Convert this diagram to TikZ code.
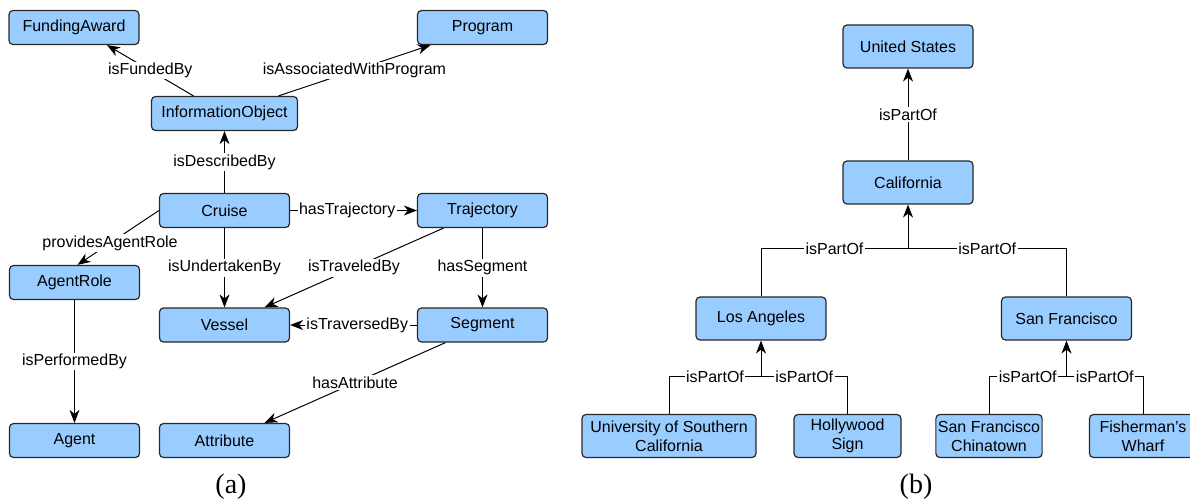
\documentclass[tikz,border=0pt]{standalone}
\usepackage{fontspec}
\setmainfont{Liberation Sans}
\newfontfamily\capfont{Liberation Serif}
\usetikzlibrary{arrows.meta}

\definecolor{boxblue}{RGB}{153,204,255}
\definecolor{boxline}{RGB}{40,40,40}

\tikzset{
  concept/.style={draw=boxline, fill=boxblue, rounded corners=4pt, line width=1.2pt,
    minimum height=34pt, minimum width=130pt, inner sep=2pt, align=center,
    font=\fontsize{16}{19}\selectfont},
  place/.style={concept, minimum height=43pt},
  rel/.style={fill=white, inner sep=1.5pt, font=\fontsize{16}{19}\selectfont},
  link/.style={draw, line width=1pt, -{Stealth[length=13pt,width=10pt,inset=4pt]}},
  tree/.style={draw, line width=1pt},
  caption/.style={font=\capfont\fontsize{28}{32}\selectfont},
}

\begin{document}
\begin{tikzpicture}[x=1pt,y=-1pt]
        \useasboundingbox (0,0) rectangle (1190,502);

        % (a) cruise ontology
        \begin{scope}[every node/.style={concept}]
          \node (fund)    at (74,27.5)     {FundingAward};
          \node (prog)    at (482.5,27.5)  {Program};
          \node[minimum width=146pt] (info) at (224.5,113.5) {InformationObject};
          \node (cruise)  at (224.5,210.5) {Cruise};
          \node (traj)    at (482.5,210.5) {Trajectory};
          \node (role)    at (74.5,282.5)  {AgentRole};
          \node (vessel)  at (224.5,325)   {Vessel};
          \node (segment) at (482.5,325)   {Segment};
          \node (agent)   at (74.5,440.5)  {Agent};
          \node (attr)    at (224.5,440.5) {Attribute};
        \end{scope}

        % (b) place hierarchy
        \begin{scope}[every node/.style={place}]
          \node (us)    at (908,46.5)    {United States};
          \node (cal)   at (908,182.5)   {California};
          \node (la)    at (761,318.5)   {Los Angeles};
          \node (sf)    at (1066.5,318.5) {San Francisco};
          \node[minimum width=174pt] (usc)   at (669,436)    {University of Southern\\California};
          \node[minimum width=107pt] (holly) at (847.5,436)  {Hollywood\\Sign};
          \node[minimum width=106pt] (china) at (989,436)    {San Francisco\\Chinatown};
          \node[minimum width=107pt] (wharf) at (1143,436)   {Fisherman's\\Wharf};
        \end{scope}

        \coordinate (calj) at ([yshift=-44pt]cal.south);
        \coordinate (laj)  at ([yshift=-36pt]la.south);
        \coordinate (sfj)  at ([yshift=-36pt]sf.south);

        \begin{scope}[every node/.style={rel}]

          \begin{scope}[every edge/.style={link}]
            \path ([xshift=-31pt]info.north) edge node {isFundedBy} ([xshift=33pt]fund.south);
            \path ([xshift=54pt]info.north) edge node {isAssociatedWithProgram} ([xshift=-52pt]prog.south);
            \path (cruise) edge node {isDescribedBy} (info);
            \path (cruise) edge node[pos=0.45] {hasTrajectory} (traj);
            \path (cruise.west) edge node[pos=0.6] {providesAgentRole} ([xshift=3pt]role.north);
            \path (cruise) edge node {isUndertakenBy} (vessel);
            \path ([xshift=-39pt]traj.south) edge node {isTraveledBy} ([xshift=40pt]vessel.north);
            \path (traj) edge node {hasSegment} (segment);
            \path (segment) edge node[pos=0.47] {isTraversedBy} (vessel);
            \path (role) edge node {isPerformedBy} (agent);
            \path ([xshift=-37pt]segment.south) edge node {hasAttribute} ([xshift=40pt]attr.north);

            \path (cal) edge node {isPartOf} (us);
            \path (calj) edge (cal.south);
            \path (laj) edge (la.south);
            \path (sfj) edge (sf.south);
          \end{scope}

          \draw[tree] (la.north) |- node[pos=0.75] {isPartOf} (calj);
          \draw[tree] (sf.north) |- node[pos=0.75] {isPartOf} (calj);
          \draw[tree] (usc.north) |- node[pos=0.75] {isPartOf} (laj);
          \draw[tree] (holly.north) |- node[pos=0.75] {isPartOf} (laj);
          \draw[tree] (china.north) |- node[pos=0.75] {isPartOf} (sfj);
          \draw[tree] (wharf.north) |- node[pos=0.75] {isPartOf} (sfj);
        \end{scope}

        \node[caption] (capa) at (231,487) {(a)};
        \node[caption] (capb) at (916,487) {(b)};

      \end{tikzpicture}
\end{document}
